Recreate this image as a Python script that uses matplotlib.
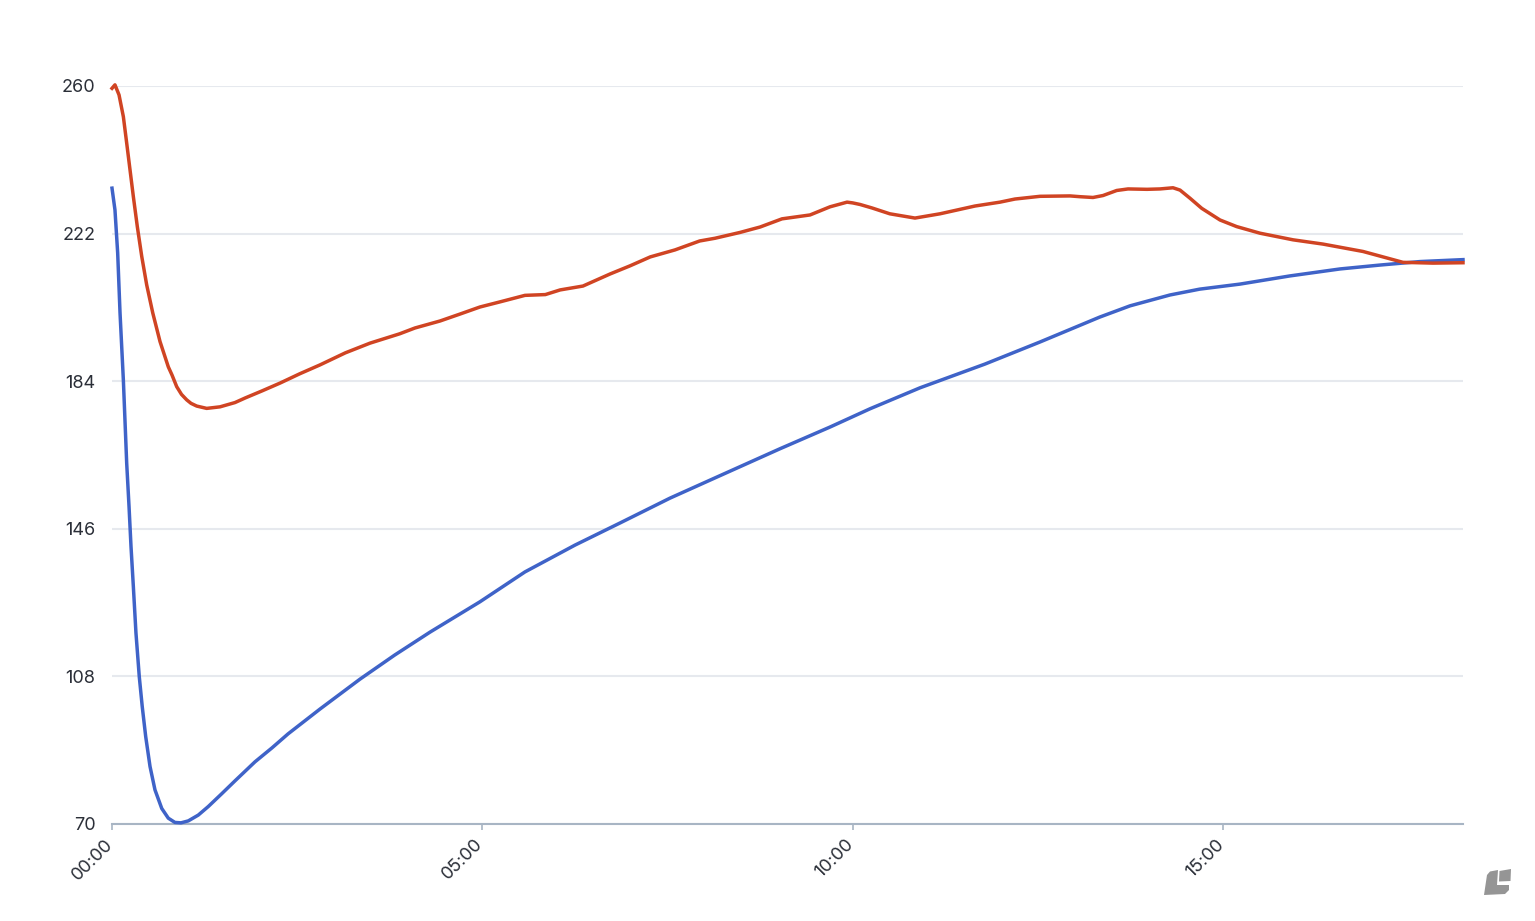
# -*- coding: utf-8 -*-
import matplotlib
matplotlib.use('Agg')
import matplotlib.pyplot as plt
from matplotlib.patches import Polygon
from matplotlib.transforms import ScaledTranslation

plt.rcParams['font.family'] = ['Inter', 'DejaVu Sans']

# 数据: 分钟 / 数值
red_minutes = [0, 2.4, 5.7, 9.2, 11.9, 14.6, 17.3, 20.5, 24.1, 28.1, 33, 38.9, 45.6, 48.6, 52.4, 56.3, 60.5, 64,
               68.6, 76.7, 87.5, 99.6, 108, 121.5, 136, 152, 168.5, 189, 209, 233, 245.4, 265.7, 282, 298, 314,
               334.5, 351, 363, 381.5, 403.4, 419.6, 436, 456, 476, 488.4, 508.7, 525, 542.7, 565.4, 581.6,
               589.7, 595.4, 600, 605.9, 615.6, 630, 650.4, 670.7, 699, 719.3, 731.4, 751.7, 776, 784.1, 794.6,
               802.7, 813.8, 823, 838.4, 848.9, 859.4, 865.1, 873.2, 882.7, 897.5, 911, 929.9, 956.6, 980.9,
               1013.3, 1045.7, 1070, 1094.3]
red_values = [259.4, 260.3, 257.7, 252.1, 245.3, 238.4, 231.5, 223.8, 216.1, 208.8, 201.6, 194.2, 187.7, 185.6,
              182.6, 180.6, 179.2, 178.3, 177.6, 177, 177.4, 178.5, 179.7, 181.5, 183.5, 185.9, 188.2, 191.3,
              193.8, 196.2, 197.7, 199.5, 201.3, 203.1, 204.4, 206.1, 206.3, 207.5, 208.5, 211.6, 213.7, 216,
              217.8, 220.1, 220.8, 222.3, 223.7, 225.8, 226.8, 228.9, 229.6, 230.1, 229.9, 229.5, 228.6, 227.1,
              226, 227.1, 229.1, 230.1, 230.9, 231.6, 231.7, 231.5, 231.3, 231.8, 233.1, 233.5, 233.4, 233.5,
              233.8, 233.2, 231.1, 228.5, 225.5, 223.8, 222.1, 220.4, 219.3, 217.4, 214.6, 214.4, 214.5]

blue_minutes = [0, 2.4, 4.6, 6.5, 9.2, 10.5, 11.9, 13.8, 15.4, 17.3, 19.4, 22.1, 24.5, 27.3, 30.8, 34.8, 40.3,
                45.6, 51, 55.9, 61.8, 69.9, 78, 88.9, 99.6, 115.8, 129.6, 142.6, 168.5, 200.9, 229, 257.6, 298,
                334.5, 375, 411.5, 452, 488.4, 541, 581.6, 614, 654.5, 707, 751.7, 800, 824.6, 857, 881, 913.7,
                954, 994.7, 1027, 1059.5, 1094.3]
blue_values = [233.7, 228.1, 217, 201.6, 184.3, 174, 162.9, 151.7, 141.4, 131.1, 119.2, 107.9, 100.2, 92.5, 84.8,
               78.8, 74, 71.5, 70.4, 70.3, 70.8, 72.3, 74.5, 77.8, 81.1, 86, 89.6, 93.2, 99.6, 107.3, 113.5,
               119.4, 127.2, 134.9, 141.8, 147.5, 153.9, 159.1, 166.6, 172.2, 176.9, 182.3, 188.4, 194.1, 200.5,
               203.4, 206.2, 207.7, 209, 211.1, 212.9, 213.9, 214.8, 215.3]

y_ticks = [70, 108, 146, 184, 222, 260]
x_ticks = [0, 300, 600, 900]
x_labels = ['00:00', '05:00', '10:00', '15:00']

W, H = 1535, 921
fig = plt.figure(figsize=(W / 100, H / 100), dpi=100)
ax = fig.add_axes([112 / W, 1 - 824 / H, (1463 - 112) / W, (824 - 86) / H])

ax.plot(blue_minutes, blue_values, color='#3f63c8', lw=2.5, clip_on=False, solid_joinstyle='round', zorder=3)
ax.plot(red_minutes, red_values, color='#d04423', lw=2.5, clip_on=False, solid_joinstyle='round', zorder=3)

ax.set_xlim(0, 1094.3)
ax.set_ylim(70, 260)
ax.set_yticks(y_ticks)
ax.set_xticks(x_ticks)
ax.set_xticklabels(x_labels, rotation=45, ha='right', va='top', rotation_mode='anchor')

ax.grid(axis='y', color='#e6e9ee', lw=1.5)
ax.set_axisbelow(True)
for s in ['top', 'right', 'left']:
    ax.spines[s].set_visible(False)
ax.spines['bottom'].set_color('#a8b5c4')
ax.spines['bottom'].set_linewidth(1.5)
ax.tick_params(axis='y', length=0, pad=12, labelsize=13, labelcolor='#2b2f38')
ax.tick_params(axis='x', length=4.5, width=1.2, color='#a8b5c4', pad=4, labelsize=13, labelcolor='#2b2f38')

# x 轴标签往左移一点
shift = ScaledTranslation(-8 / 100, 0, fig.dpi_scale_trans)
for label in ax.get_xticklabels():
    label.set_transform(label.get_transform() + shift)


# 右下角图标
def px(points):
    return [(x / W, 1 - y / H) for x, y in points]


logo = '#959595'
fig.add_artist(Polygon(px([(1484, 895), (1487, 875), (1490, 871.5), (1498, 870), (1497, 885), (1509, 885),
                           (1509, 890), (1505, 894)]), closed=True, fc=logo, ec='none'))
fig.add_artist(Polygon(px([(1499.5, 871), (1511, 869), (1510.5, 881), (1499, 881.5)]), closed=True, fc=logo, ec='none'))

plt.savefig('out.png', dpi=100)
